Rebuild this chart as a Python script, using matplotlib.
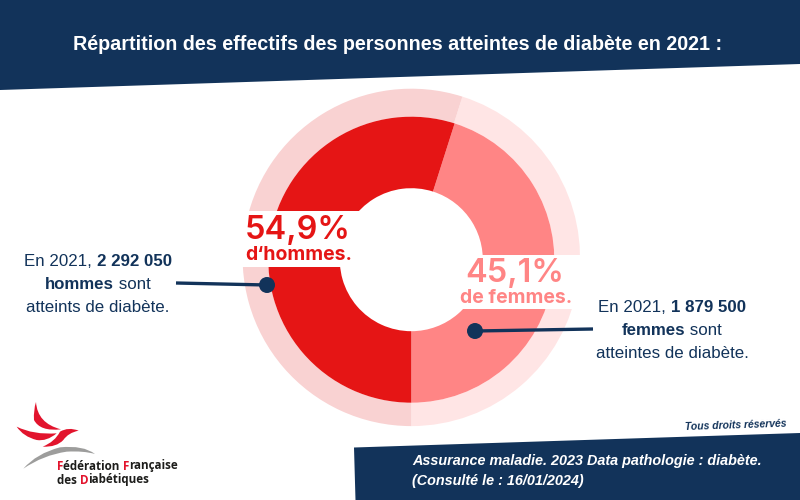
import matplotlib
matplotlib.use("Agg")
import matplotlib.pyplot as plt
from matplotlib.patches import Polygon, Rectangle, Circle, PathPatch
from matplotlib.path import Path

# Data
categories = ["hommes", "femmes"]
shares = [54.9, 45.1]
share_labels = ["54,9%", "45,1%"]
share_captions = ["d‘hommes.", "de femmes."]
title = "Répartition des effectifs des personnes atteintes de diabète en 2021 :"
source_lines = ["Assurance maladie. 2023 Data pathologie : diabète.", "(Consulté le : 16/01/2024)"]
rights = "Tous droits réservés"

NAVY = "#12335A"
RED = "#E51515"
PINK = "#FF8585"
RED_PALE = "#F9D2D2"
PINK_PALE = "#FFE5E5"

fig = plt.figure(figsize=(8, 5), dpi=100, facecolor="white")
ax = fig.add_axes([0, 0, 1, 1])


def Y(y):
    return 500 - y


def P(pts):
    return [(x, Y(y)) for x, y in pts]


# Pie: femmes goes clockwise and ends exactly at the bottom
values = [shares[1], shares[0]]
start = 270 + shares[1] * 3.6
ax.pie(values, colors=[PINK_PALE, RED_PALE], radius=168.7, center=(411.3, Y(257.4)),
       startangle=start, counterclock=False, frame=True,
       wedgeprops=dict(linewidth=0))
ax.add_patch(Circle((411.3, Y(259.7)), 143, fc="white", ec="none", zorder=1.5))
ax.pie(values, colors=[PINK, RED], radius=143, center=(411.3, Y(259.7)),
       startangle=start, counterclock=False, frame=True,
       wedgeprops=dict(linewidth=0, width=71.5, zorder=2))
ax.set_xlim(0, 800)
ax.set_ylim(0, 500)
ax.set_aspect("auto")
ax.axis("off")

# Label bands
ax.add_patch(Rectangle((236, Y(266.7)), 135, 55.7, fc="white", ec="none", zorder=3))
ax.add_patch(Rectangle((455, Y(309)), 135, 54, fc="white", ec="none", zorder=3))

# Banners
ax.add_patch(Polygon(P([(0, 0), (800, 0), (800, 64), (0, 90)]), fc=NAVY, ec="none", zorder=2))
ax.add_patch(Polygon(P([(354, 447.5), (800, 433), (800, 500), (355.5, 500)]), fc=NAVY, ec="none", zorder=2))

SANS = "Liberation Sans"
ax.text(397.5, Y(45), title, color="white", fontsize=14.25, fontweight="bold",
        family=SANS, ha="center", va="center", zorder=5)
ax.text(412, Y(461.5), source_lines[0], color="white", fontsize=10.35, fontweight="bold", style="italic",
        family=SANS, ha="left", va="center", zorder=5)
ax.text(412, Y(481.5), source_lines[1], color="white", fontsize=10.35, fontweight="bold", style="italic",
        family=SANS, ha="left", va="center", zorder=5)
ax.text(736, Y(425), rights, color=NAVY, fontsize=7.5, fontweight="bold", style="italic",
        family=SANS, ha="center", va="center", rotation=1.9, rotation_mode="anchor", zorder=5)

# Percent labels
ax.text(298, Y(230.5), share_labels[0], color=RED, fontsize=23.4, fontweight="semibold", family="Inter",
        ha="center", va="center", zorder=5)
ax.text(298.5, Y(255), share_captions[0], color=RED, fontsize=14, fontweight="bold", family="Inter",
        ha="center", va="center", zorder=5)
ax.text(515, Y(273.5), share_labels[1], color=PINK, fontsize=23.4, fontweight="semibold", family="Inter",
        ha="center", va="center", zorder=5)
ax.text(516, Y(298), share_captions[1], color=PINK, fontsize=14, fontweight="bold", family="Inter",
        ha="center", va="center", zorder=5)

# Connectors
ax.plot([176, 267], [Y(283), Y(285)], color=NAVY, lw=2.4, zorder=6, solid_capstyle="butt")
ax.add_patch(Circle((267, Y(285)), 8, fc=NAVY, ec="none", zorder=7))
ax.plot([475, 593], [Y(331), Y(329)], color=NAVY, lw=2.4, zorder=6, solid_capstyle="butt")
ax.add_patch(Circle((475, Y(331)), 8, fc=NAVY, ec="none", zorder=7))


def run_width(t, s, r):
    # guard marks so edge spaces count
    t.set_text("|" + s + "|")
    w = t.get_window_extent(r).width
    t.set_text("||")
    w -= t.get_window_extent(r).width
    t.set_text(s)
    return w


def rich_line(cx, y, parts, size=12.2, family=SANS, color=NAVY):
    """Centre a line made of regular and bold runs."""
    r = fig.canvas.get_renderer()
    items = [ax.text(0, Y(y), s, color=color, fontsize=size, family=family,
                     fontweight="bold" if bold else "normal", ha="left", va="center", zorder=5)
             for s, bold in parts]
    widths = [run_width(t, s, r) for (s, _), t in zip(parts, items)]
    x = cx - sum(widths) / 2
    for t, w in zip(items, widths):
        t.set_x(x)
        x += w


rich_line(98, 261.5, [("En 2021, ", False), ("2 292 050", True)])
rich_line(98, 284.5, [("hommes", True), (" sont", False)])
rich_line(98, 307.5, [("atteints de diabète.", False)])
rich_line(672, 307.5, [("En 2021, ", False), ("1 879 500", True)])
rich_line(672, 330.5, [("femmes", True), (" sont", False)])
rich_line(672, 353.5, [("atteintes de diabète.", False)])

# Logo
LOGO_RED = "#E2142D"
LOGO_GREY = "#9D9D9C"


def swoosh(verts, color):
    codes = [Path.MOVETO] + [Path.CURVE3] * (len(verts) - 1) + [Path.CLOSEPOLY]
    pts = P(verts) + [(0, 0)]
    ax.add_patch(PathPatch(Path(pts, codes), fc=color, ec="none", zorder=5))


def z(x, y):
    return (x / 3, 390 + y / 3)


swoosh([z(108, 36), z(112, 100), z(183, 118), z(120, 125), z(102, 90), z(100, 60), z(108, 36)], LOGO_RED)
swoosh([z(50, 110), z(100, 135), z(170, 130), z(140, 155), z(110, 150), z(70, 140), z(50, 110)], LOGO_RED)
swoosh([z(236, 122), z(205, 128), z(190, 150), z(170, 172), z(128, 170), z(165, 155), z(180, 125),
        z(205, 110), z(236, 122)], LOGO_RED)
swoosh([z(70, 236), z(130, 195), z(200, 185), z(250, 182), z(285, 192), z(250, 165), z(180, 172),
        z(110, 190), z(70, 236)], LOGO_GREY)


def logo_line(x, y, runs):
    r = fig.canvas.get_renderer()
    kw = dict(fontsize=8.4, family="Open Sans", fontweight="bold", ha="left", va="center", zorder=5)
    probe = ax.text(0, 0, "", **kw)
    prefix = ""
    for s, col in runs:
        w = run_width(probe, prefix, r) if prefix else 0
        ax.text(x + w, Y(y), s, color=col, **kw)
        prefix += s
    probe.remove()


K = "#1D1D1B"
logo_line(57, 466, [("F", LOGO_RED), ("édération ", K), ("F", LOGO_RED), ("rançaise", K)])
logo_line(57, 480, [("des ", K), ("D", LOGO_RED), ("iabétiques", K)])

fig.savefig("out.png", dpi=100, facecolor="white")
